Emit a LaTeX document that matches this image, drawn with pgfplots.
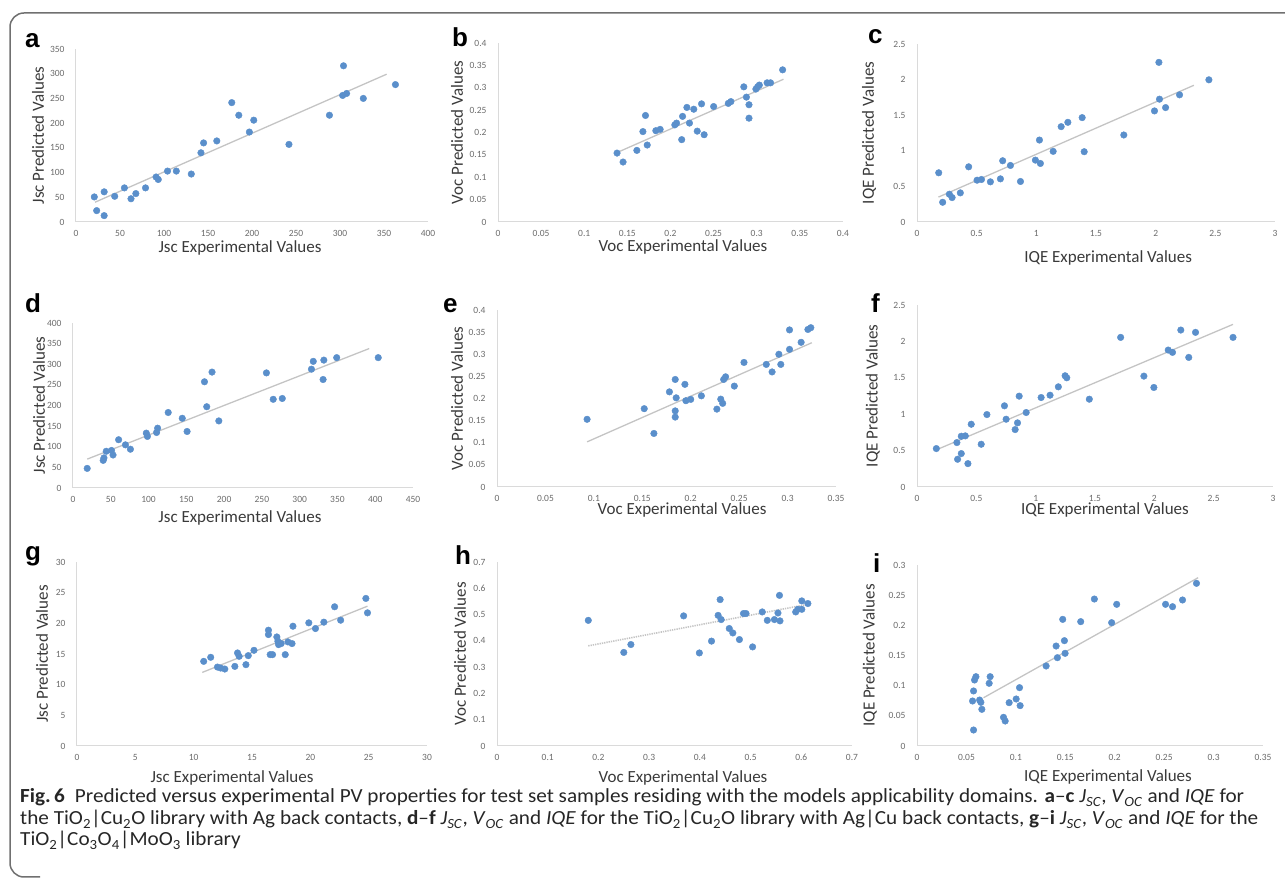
\documentclass[border=0pt]{standalone}
\usepackage{fontspec}
\usepackage{pgfplots}
\pgfplotsset{compat=1.18}
\setmainfont{Carlito}
\newfontfamily\calibri{Carlito}
\newfontfamily\capfont[FakeStretch=1.06]{Carlito}
\newfontfamily\arialfont{Liberation Sans}
\definecolor{dotblue}{HTML}{5A8FCB}
\definecolor{trendgray}{HTML}{C4C4C4}
\definecolor{axisgray}{HTML}{DADADA}
\definecolor{ticktext}{HTML}{6B6B6B}
\definecolor{labtext}{HTML}{3A3A3A}
\definecolor{framegray}{HTML}{707070}

\pgfplotsset{
  panel/.style={
    scale only axis, anchor=south west,
    axis x line*=bottom, axis y line*=left,
    axis line style={draw=axisgray, line width=1pt, -},
    major tick length=0pt,
    tick style={draw=none},
    tick label style={font=\calibri\fontsize{9.5}{10}\selectfont, text=ticktext},
    xticklabel style={yshift=-5pt},
    yticklabel style={xshift=-8pt},
    label style={font=\calibri\fontsize{17}{18}\selectfont, text=labtext},
    /pgf/number format/assume math mode=true,
    /pgf/number format/fixed,
    /pgf/number format/precision=2,
    scaled ticks=false,
    clip=false,
  },
  dots/.style={only marks, mark=*, mark size=3.3pt,
    mark options={draw=dotblue, fill=dotblue}},
  trend/.style={no marks, draw=trendgray, line width=1.3pt},
}

\begin{document}
\begin{tikzpicture}[x=1pt, y=1pt]
\path[use as bounding box] (0,0) rectangle (1285,883);
\draw[framegray, line width=1.5pt] (1285,870) -- (24,870)
  arc[start angle=90, end angle=180, radius=14] -- (10,20)
  arc[start angle=180, end angle=270, radius=14] -- (40,6);

% ---- row 1 ----
\begin{axis}[panel, at={(76pt,661pt)}, width=352pt, height=173pt,
  xmin=0, xmax=400, ymin=0, ymax=350,
  xtick={0,50,...,400}, ytick={0,50,...,350},
  xlabel={Jsc Experimental Values}, ylabel={Jsc Predicted Values},
  x label style={at={(axis description cs:0.466,-0.150)}, anchor=center},
  y label style={at={(axis description cs:-0.108,0.5)}, anchor=center}]
\addplot[trend] coordinates {(21.6,40) (353,299)};
\addplot[dots] coordinates {
(20.8,50.7) (23.5,23) (32,12.9) (32,61) (44,52) (55,69) (62.5,47) (68,57.5)
(79,69) (91,91) (93.5,86) (104,103) (114,103) (131,97) (142,140) (145,160)
(160,164) (177,241.5) (185,216) (197,182) (202,206) (242,157) (288,216)
(304,316) (303,256) (307.5,260) (326.5,250) (363,278)};
\end{axis}

\begin{axis}[panel, at={(498pt,661pt)}, width=345pt, height=179pt,
  xmin=0, xmax=0.4, ymin=0, ymax=0.4,
  xtick={0,0.05,...,0.41}, ytick={0,0.05,...,0.41},
  xlabel={Voc Experimental Values}, ylabel={Voc Predicted Values},
  x label style={at={(axis description cs:0.536,-0.140)}, anchor=center},
  y label style={at={(axis description cs:-0.119,0.5)}, anchor=center}]
\addplot[trend] coordinates {(0.139,0.156) (0.331,0.319)};
\addplot[dots] coordinates {
(0.138,0.154) (0.145,0.134) (0.161,0.160) (0.168,0.202) (0.171,0.238)
(0.173,0.172) (0.183,0.204) (0.188,0.207) (0.205,0.217) (0.207,0.221)
(0.213,0.184) (0.214,0.236) (0.219,0.256) (0.222,0.221) (0.227,0.252)
(0.231,0.203) (0.236,0.264) (0.239,0.195) (0.250,0.258) (0.267,0.265)
(0.270,0.269) (0.285,0.302) (0.288,0.279) (0.291,0.262) (0.291,0.232)
(0.299,0.297) (0.301,0.302) (0.303,0.306) (0.312,0.311) (0.316,0.311)
(0.330,0.340)};
\end{axis}

\begin{axis}[panel, at={(917pt,661pt)}, width=358pt, height=178pt,
  xmin=0, xmax=3, ymin=0, ymax=2.5,
  xtick={0,0.5,...,3}, ytick={0,0.5,...,2.5},
  xlabel={IQE Experimental Values}, ylabel={IQE Predicted Values},
  x label style={at={(axis description cs:0.534,-0.202)}, anchor=center},
  y label style={at={(axis description cs:-0.134,0.5)}, anchor=center}]
\addplot[trend] coordinates {(0.18,0.35) (2.32,1.92)};
\addplot[dots] coordinates {
(0.182,0.691) (0.215,0.277) (0.271,0.390) (0.294,0.343) (0.363,0.409)
(0.433,0.775) (0.503,0.587) (0.540,0.597) (0.615,0.564) (0.699,0.606)
(0.718,0.860) (0.783,0.794) (0.867,0.569) (0.992,0.869) (1.026,1.151)
(1.034,0.822) (1.141,0.992) (1.208,1.339) (1.264,1.400) (1.384,1.466)
(1.401,0.987) (1.733,1.222) (1.990,1.560) (2.027,2.242) (2.032,1.725)
(2.083,1.607) (2.200,1.786) (2.446,1.997)};
\end{axis}

% ---- row 2 ----
\begin{axis}[panel, at={(73pt,395pt)}, width=340pt, height=165pt,
  xmin=0, xmax=450, ymin=0, ymax=400,
  xtick={0,50,...,450}, ytick={0,50,...,400},
  xlabel={Jsc Experimental Values}, ylabel={Jsc Predicted Values},
  x label style={at={(axis description cs:0.491,-0.182)}, anchor=center},
  y label style={at={(axis description cs:-0.100,0.5)}, anchor=center}]
\addplot[trend] coordinates {(18.8,70) (392,338)};
\addplot[dots] coordinates {
(18.8,47.5) (40,67) (41,73) (44,89) (51,91) (53,80) (60.4,117) (69.4,104.6)
(76,94) (97,133) (98.5,125) (110.6,134.5) (112,145) (126,183) (144.6,169)
(151,137) (174,257.5) (177,197) (184,281) (193,162.6) (256,279) (265,215)
(277,217) (315.6,288) (318,307) (331,263) (332,310) (349,316) (404,316)};
\end{axis}

\begin{axis}[panel, at={(497pt,396pt)}, width=339pt, height=177pt,
  xmin=0, xmax=0.35, ymin=0, ymax=0.4,
  xtick={0,0.05,...,0.36}, ytick={0,0.05,...,0.41},
  xlabel={Voc Experimental Values}, ylabel={Voc Predicted Values},
  x label style={at={(axis description cs:0.546,-0.130)}, anchor=center},
  y label style={at={(axis description cs:-0.118,0.5)}, anchor=center}]
\addplot[trend] coordinates {(0.093,0.102) (0.325,0.326)};
\addplot[dots] coordinates {
(0.093,0.153) (0.152,0.177) (0.162,0.121) (0.178,0.215) (0.184,0.243)
(0.184,0.172) (0.184,0.158) (0.185,0.2015) (0.194,0.232) (0.195,0.195)
(0.200,0.198) (0.211,0.206) (0.227,0.176) (0.231,0.1985) (0.233,0.189)
(0.234,0.243) (0.236,0.249) (0.245,0.228) (0.255,0.2815) (0.278,0.277)
(0.284,0.260) (0.291,0.300) (0.293,0.277) (0.302,0.355) (0.302,0.311)
(0.314,0.327) (0.321,0.356) (0.324,0.360)};
\end{axis}

\begin{axis}[panel, at={(917pt,396pt)}, width=356pt, height=182pt,
  xmin=0, xmax=3, ymin=0, ymax=2.5,
  xtick={0,0.5,...,3}, ytick={0,0.5,...,2.5},
  xlabel={IQE Experimental Values}, ylabel={IQE Predicted Values},
  x label style={at={(axis description cs:0.528,-0.126)}, anchor=center},
  y label style={at={(axis description cs:-0.124,0.5)}, anchor=center}]
\addplot[trend] coordinates {(0.168,0.514) (2.663,2.234)};
\addplot[dots] coordinates {
(0.163,0.528) (0.336,0.610) (0.342,0.381) (0.373,0.459) (0.373,0.697)
(0.407,0.702) (0.429,0.321) (0.457,0.862) (0.541,0.587) (0.589,0.995)
(0.737,1.115) (0.751,0.931) (0.827,0.789) (0.847,0.881) (0.861,1.248)
(0.920,1.023) (1.046,1.229) (1.121,1.261) (1.191,1.376) (1.248,1.528)
(1.262,1.500) (1.452,1.206) (1.716,2.055) (1.912,1.523) (1.996,1.367)
(2.117,1.881) (2.153,1.849) (2.223,2.156) (2.290,1.780) (2.347,2.124)
(2.663,2.055)};
\end{axis}

% ---- row 3 ----
\begin{axis}[panel, at={(77pt,137pt)}, width=350pt, height=184pt,
  xmin=0, xmax=30, ymin=0, ymax=30,
  xtick={0,5,...,30}, ytick={0,5,...,30},
  xlabel={Jsc Experimental Values}, ylabel={Jsc Predicted Values},
  x label style={at={(axis description cs:0.443,-0.174)}, anchor=center},
  y label style={at={(axis description cs:-0.100,0.5)}, anchor=center}]
\addplot[trend] coordinates {(10.74,12.0) (24.9,22.8)};
\addplot[dots] coordinates {
(10.86,13.8) (11.46,14.46) (12.04,12.87) (12.32,12.71) (12.67,12.55)
(13.53,12.98) (13.76,15.17) (13.9,14.62) (14.48,13.26) (14.68,14.73)
(15.17,15.6) (16.41,18.88) (16.41,18.17) (16.56,14.9) (16.76,14.9)
(17.13,17.78) (17.22,17.08) (17.28,16.53) (17.5,16.7) (17.85,14.9)
(18.08,16.97) (18.43,16.7) (18.51,19.53) (19.87,20.08) (20.44,19.15)
(21.16,20.19) (22.08,22.7) (22.6,20.51) (24.76,24.06) (24.9,21.71)};
\end{axis}

\begin{axis}[panel, at={(497pt,137pt)}, width=355pt, height=184pt,
  xmin=0, xmax=0.7, ymin=0, ymax=0.7,
  xtick={0,0.1,...,0.71}, ytick={0,0.1,...,0.71},
  xlabel={Voc Experimental Values}, ylabel={Voc Predicted Values},
  x label style={at={(axis description cs:0.524,-0.174)}, anchor=center},
  y label style={at={(axis description cs:-0.104,0.5)}, anchor=center}]
\addplot[trend, densely dotted, line width=1.6pt] coordinates {(0.18,0.381) (0.613,0.539)};
\addplot[dots] coordinates {
(0.180,0.478) (0.250,0.356) (0.264,0.386) (0.368,0.495) (0.399,0.354)
(0.423,0.399) (0.436,0.497) (0.440,0.557) (0.442,0.481) (0.458,0.447)
(0.465,0.430) (0.478,0.405) (0.486,0.504) (0.491,0.504) (0.504,0.377)
(0.523,0.510) (0.533,0.478) (0.547,0.481) (0.554,0.506) (0.557,0.573)
(0.558,0.476) (0.589,0.510) (0.593,0.520) (0.601,0.520) (0.601,0.552)
(0.613,0.542)};
\end{axis}

\begin{axis}[panel, at={(917pt,137pt)}, width=346pt, height=181pt,
  xmin=0, xmax=0.35, ymin=0, ymax=0.3,
  xtick={0,0.05,...,0.36}, ytick={0,0.05,...,0.31},
  xlabel={IQE Experimental Values}, ylabel={IQE Predicted Values},
  x label style={at={(axis description cs:0.552,-0.171)}, anchor=center},
  y label style={at={(axis description cs:-0.136,0.5)}, anchor=center}]
\addplot[trend] coordinates {(0.0673,0.080) (0.2844,0.279)};
\addplot[dots] coordinates {
(0.0562,0.0746) (0.0572,0.0912) (0.0572,0.0265) (0.0582,0.1094) (0.0596,0.1149)
(0.0633,0.0762) (0.0646,0.0724) (0.0656,0.0608) (0.0730,0.1039) (0.0740,0.1149)
(0.0875,0.0475) (0.0892,0.0414) (0.0932,0.0718) (0.1003,0.0779) (0.1037,0.0967)
(0.1043,0.0669) (0.1306,0.1326) (0.1407,0.1657) (0.1420,0.1464) (0.1474,0.2099)
(0.1491,0.1746) (0.1498,0.1536) (0.1656,0.2061) (0.1794,0.2436) (0.1969,0.2044)
(0.2020,0.2348) (0.2514,0.2348) (0.2585,0.2309) (0.2686,0.2420) (0.2827,0.2696)};
\end{axis}

% ---- panel letters ----
\begin{scope}[every node/.style={anchor=base west, inner sep=0pt,
    font=\arialfont\bfseries\fontsize{26}{26}\selectfont}]
\node at (25,835) {a};
\node at (452,836) {b};
\node at (868,839) {c};
\node at (25,570) {d};
\node at (443,570) {e};
\node at (871,570) {f};
\node at (25,322) {g};
\node at (455,318) {h};
\node at (873,310) {i};
\end{scope}

% ---- caption ----
\begin{scope}[every node/.style={anchor=base west, inner sep=0pt,
    font=\capfont\fontsize{20}{21}\selectfont, text=black!85}]
\node at (20,80) {\textbf{Fig.\,6}\enspace Predicted versus experimental PV properties for test set samples residing with the models applicability domains. \textbf{a}–\textbf{c} \textit{J}\textsubscript{\textit{SC}}, \textit{V}\textsubscript{\textit{OC}} and \textit{IQE} for};
\node at (20,58) {the TiO\textsubscript{2}|Cu\textsubscript{2}O library with Ag back contacts, \textbf{d}–\textbf{f} \textit{J}\textsubscript{\textit{SC}}, \textit{V}\textsubscript{\textit{OC}} and \textit{IQE} for the TiO\textsubscript{2}|Cu\textsubscript{2}O library with Ag|Cu back contacts, \textbf{g}–\textbf{i} \textit{J}\textsubscript{\textit{SC}}, \textit{V}\textsubscript{\textit{OC}} and \textit{IQE} for the};
\node at (20,37) {TiO\textsubscript{2}|Co\textsubscript{3}O\textsubscript{4}|MoO\textsubscript{3} library};
\end{scope}
\end{tikzpicture}
\end{document}
